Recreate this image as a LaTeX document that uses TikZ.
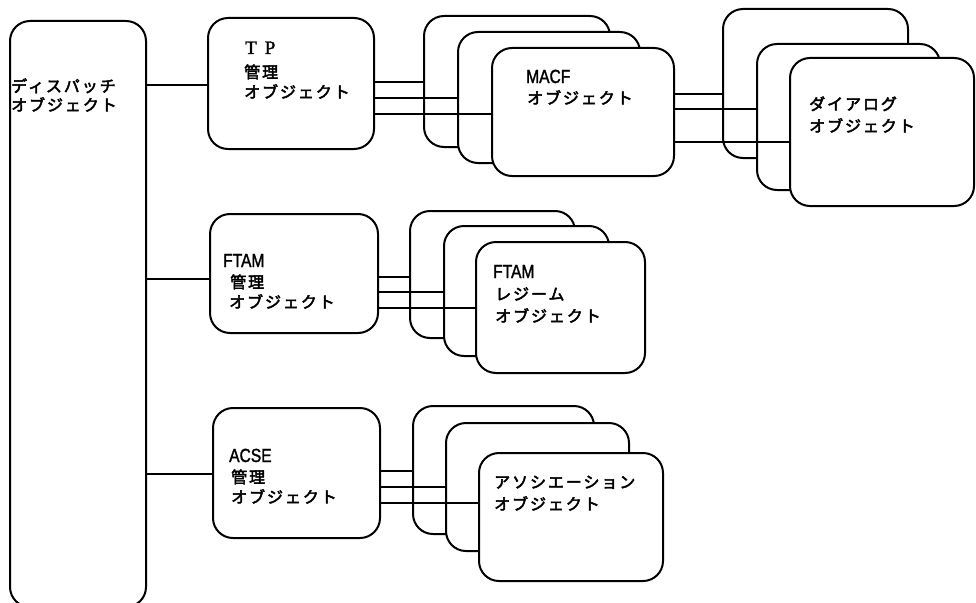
\documentclass[tikz,border=0pt]{standalone}
\usepackage{fontspec}
\newfontfamily\jp{Noto Sans CJK JP}[LetterSpace=12, FakeBold=3]
\newfontfamily\lat{Liberation Sans}[FakeStretch=0.82, FakeBold=1.5]
\newfontfamily\ser{Liberation Serif}[FakeBold=1.5]
\tikzset{
  objbox/.style={draw, line width=2pt, rounded corners=20pt, fill=white,
    inner sep=0pt, anchor=north west},
  conn/.style={line width=1.7pt},
  jt/.style={anchor=base west, inner sep=0pt, font=\jp\fontsize{16}{16}\selectfont},
  lt/.style={anchor=base west, inner sep=0pt, font=\lat\fontsize{19}{19}\selectfont},
  st/.style={anchor=base west, inner sep=0pt, font=\ser\fontsize{19}{19}\selectfont},
}
% box: name, left, top, right, bottom (pixel-like units, y downward)
\newcommand\mkbox[5]{\node[objbox, minimum width={#4-#2}, minimum height={#5-#3}] (#1) at (#2,#3) {};}
% horizontal connector from the east side of #1 to the west side of #2 at height #3
\newcommand\wire[3]{\draw[conn] (#1.east |- 0,#3) -- (#2.west |- 0,#3);}
\begin{document}
\begin{tikzpicture}[x=1pt, y=-1pt]
\useasboundingbox (0,0) rectangle (976,602);
\fill[white] (0,0) rectangle (976,602);
\clip (0,0) rectangle (976,602);

% dispatcher
\mkbox{disp}{9}{20}{145}{606}
% TP branch
\mkbox{tp}{207}{17}{373}{148}
\mkbox{macfA}{423}{15}{609}{146}
\mkbox{macfB}{457}{31}{639}{162}
\mkbox{macfC}{491}{47}{673}{175}
\mkbox{dlgA}{722}{8}{907}{157}
\mkbox{dlgB}{756}{43}{939}{189}
\mkbox{dlgC}{789}{57}{973}{205}
% FTAM branch
\mkbox{ftam}{209}{213}{377}{332}
\mkbox{regA}{409}{210}{574}{337}
\mkbox{regB}{443}{225}{608}{355}
\mkbox{regC}{475}{241}{644}{372}
% ACSE branch
\mkbox{acse}{212}{407}{379}{537}
\mkbox{assA}{412}{405}{593}{533}
\mkbox{assB}{445}{422}{628}{550}
\mkbox{assC}{478}{452}{662}{580}

% connectors
\wire{disp}{tp}{85}
\wire{disp}{ftam}{279}
\wire{disp}{acse}{474}
\wire{tp}{macfA}{82}
\wire{tp}{macfB}{98}
\wire{tp}{macfC}{114}
\wire{macfC}{dlgA}{94}
\wire{macfC}{dlgB}{109}
\wire{macfC}{dlgC}{142}
\wire{ftam}{regA}{277}
\wire{ftam}{regB}{292}
\wire{ftam}{regC}{308}
\wire{acse}{assA}{471}
\wire{acse}{assB}{487}
\wire{acse}{assC}{503}

% labels
\node[jt] (dispA) at (11,92) {ディスパッチ};
\node[jt] (dispB) at (11,111) {オブジェクト};

\node[st] (tpA) at (245,54) {T\hspace{8pt}P};
\node[jt] (tpB) at (244,78) {管理};
\node[jt] (tpC) at (244,98) {オブジェクト};

\node[lt] (macfT) at (526,83) {MACF};
\node[jt] (macfJ) at (527,104) {オブジェクト};

\node[jt] (dlgT) at (809,110) {ダイアログ};
\node[jt] (dlgJ) at (809,132) {オブジェクト};

\node[lt] (ftamT) at (223,267) {FTAM};
\node[jt] (ftamB) at (230,288) {管理};
\node[jt] (ftamC) at (229,308) {オブジェクト};

\node[lt] (regT) at (493,278) {FTAM};
\node[jt] (regJ) at (495,300) {レジーム};
\node[jt] (regK) at (495,322) {オブジェクト};

\node[lt] (acseT) at (229,462) {ACSE};
\node[jt] (acseB) at (231,483) {管理};
\node[jt] (acseC) at (231,503) {オブジェクト};

\node[jt] (assT) at (494,488) {アソシエーション};
\node[jt] (assJ) at (494,510) {オブジェクト};
\end{tikzpicture}
\end{document}
